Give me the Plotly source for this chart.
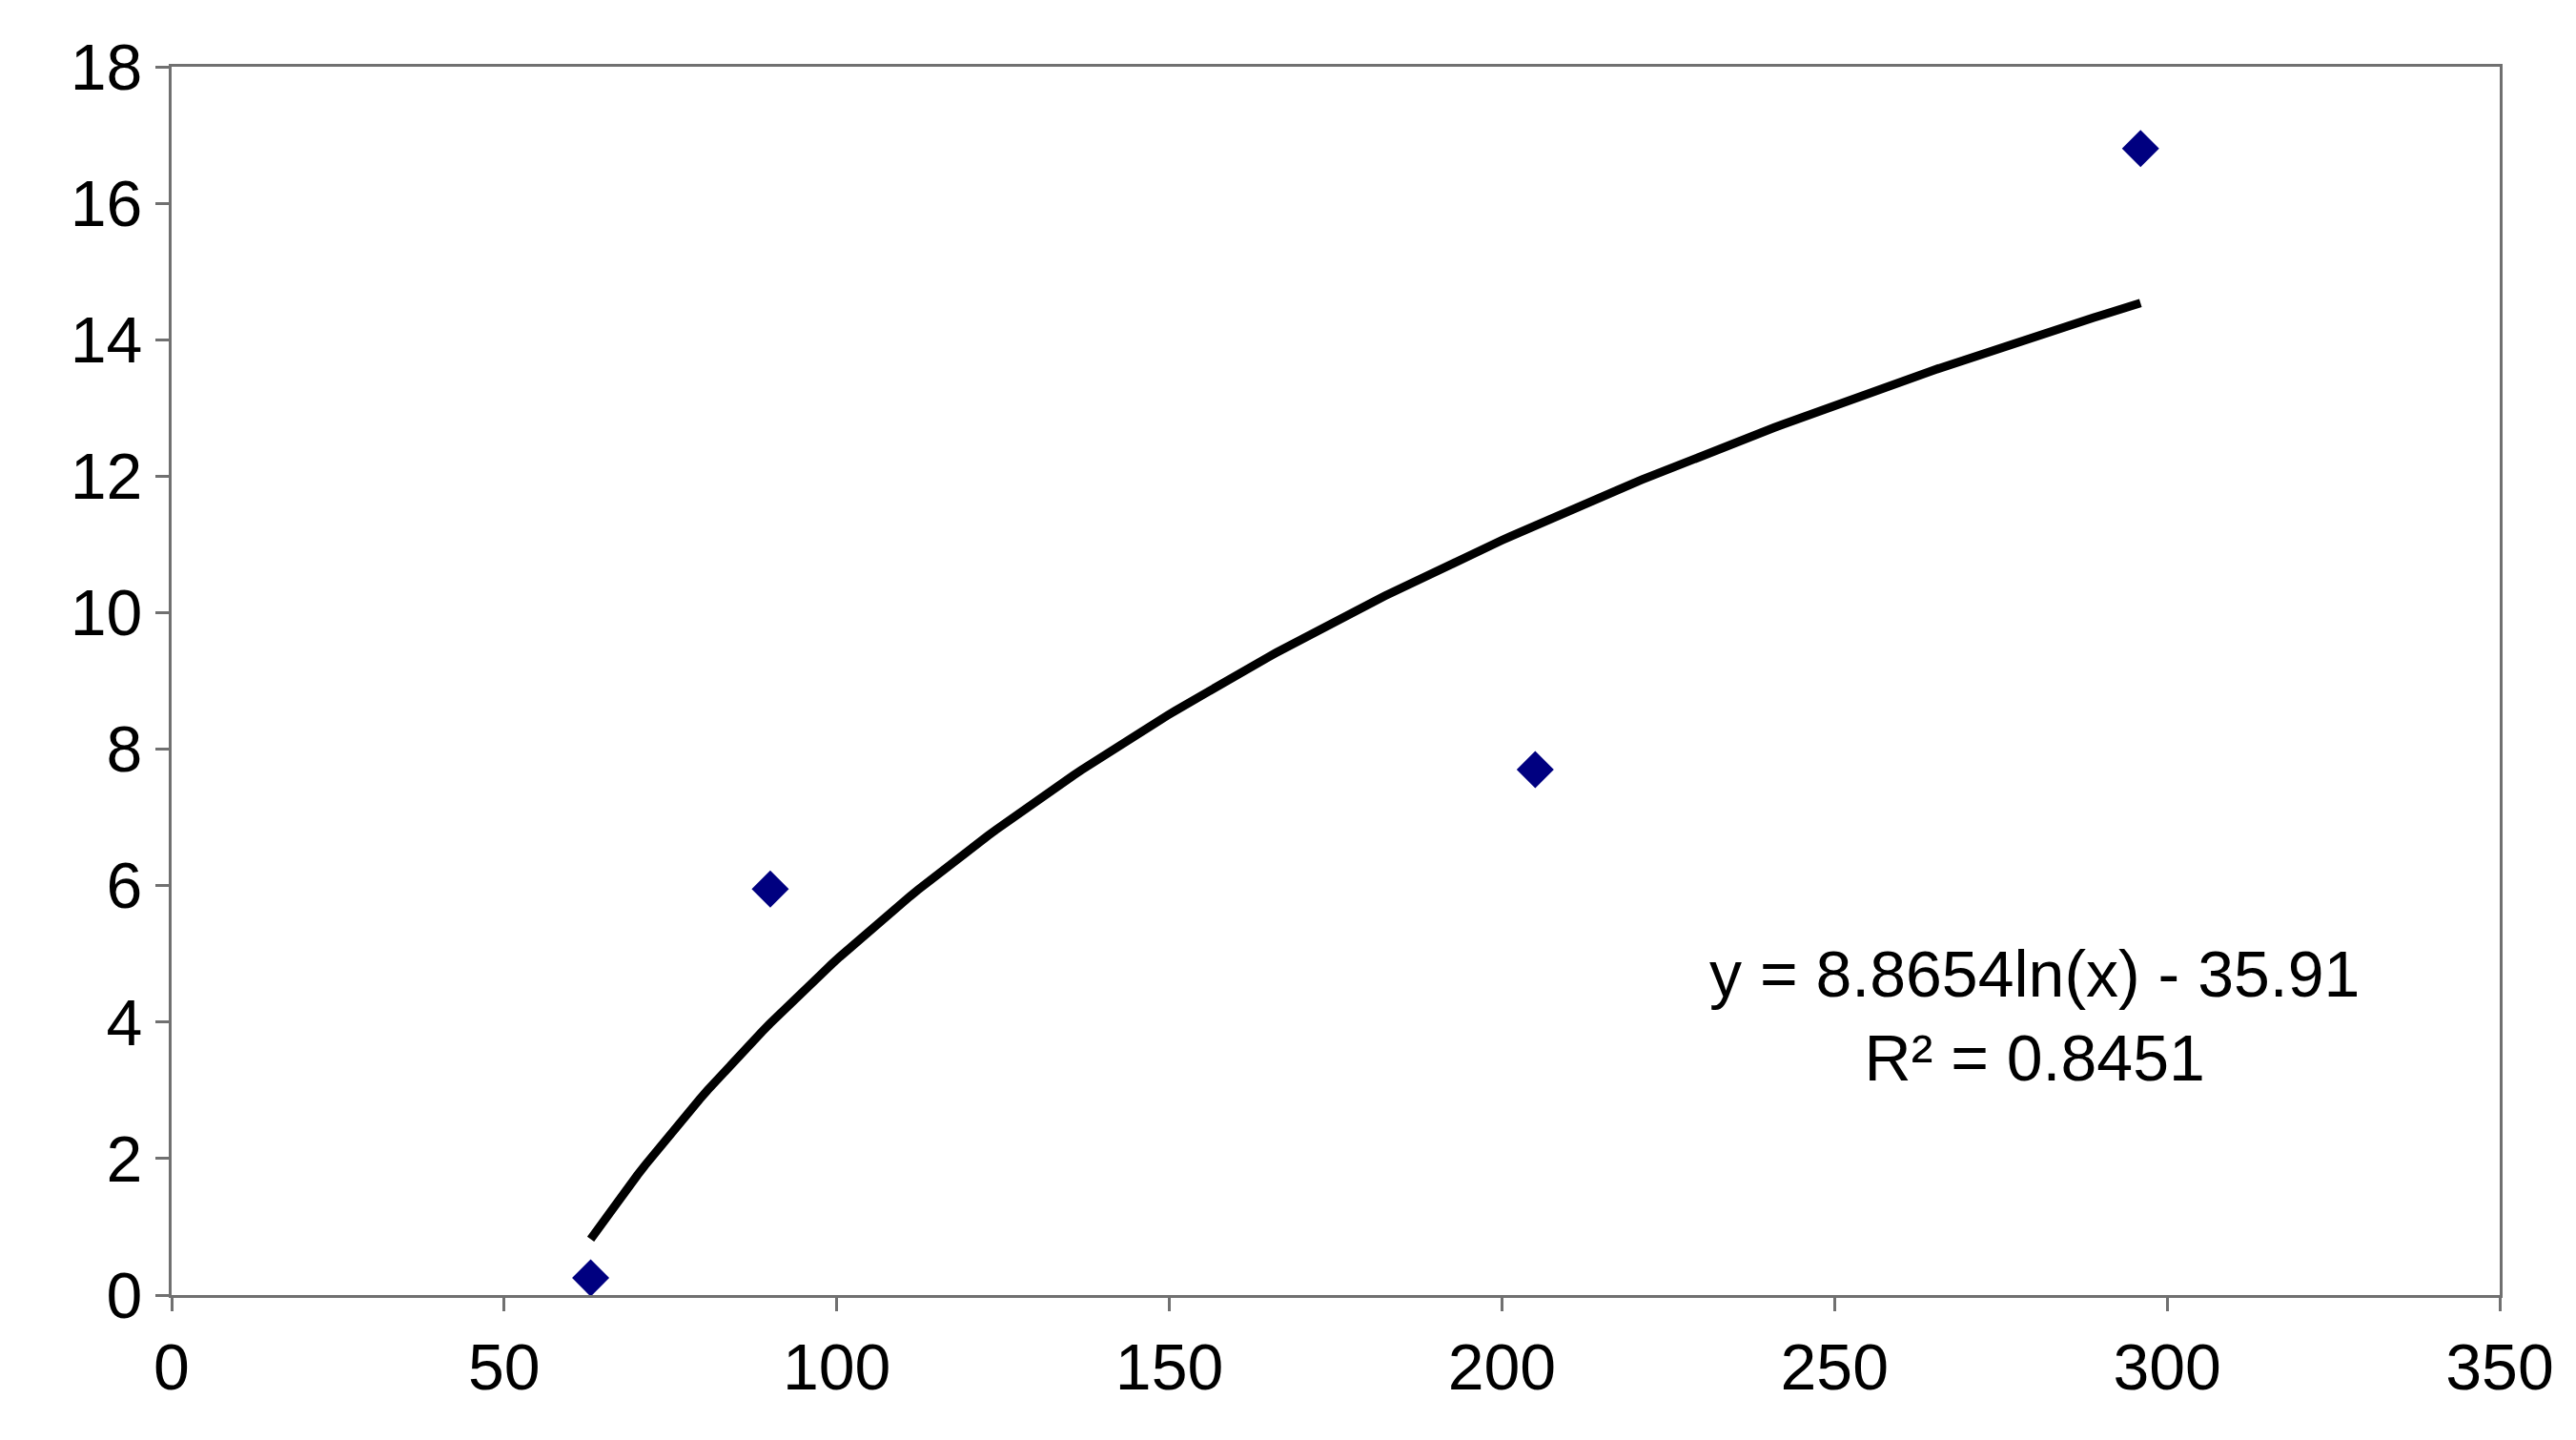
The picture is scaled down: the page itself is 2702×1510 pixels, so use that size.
import numpy as np
import plotly.graph_objects as go

x_pts = [63, 90, 205, 296]
y_pts = [0.25, 5.95, 7.7, 16.8]
coef_a = 8.8654
coef_b = -35.91
x_range_fit = [63, 296]
x_ticks = [0, 50, 100, 150, 200, 250, 300, 350]
y_ticks = [0, 2, 4, 6, 8, 10, 12, 14, 16, 18]

xf = np.linspace(x_range_fit[0], x_range_fit[1], 200)
yf = coef_a * np.log(xf) + coef_b

fig = go.Figure()
fig.add_trace(go.Scatter(x=xf, y=yf, mode="lines", line=dict(color="black", width=9), showlegend=False))
fig.add_trace(go.Scatter(x=x_pts, y=y_pts, mode="markers",
                         marker=dict(symbol="diamond", size=30, color="#000080"), showlegend=False))
fig.add_annotation(x=280, y=4.1, xref="x", yref="y", showarrow=False,
                   text="y = 8.8654ln(x) - 35.91<br>R² = 0.8451", align="center",
                   font=dict(size=68, color="black"))
axis_common = dict(showline=True, linecolor="#707070", linewidth=3, mirror=True,
                   showgrid=False, zeroline=False, ticks="outside", ticklen=14,
                   tickwidth=3, tickcolor="#707070", tickfont=dict(size=68, color="black"))
fig.update_xaxes(range=[0, 350], tickvals=x_ticks, **axis_common)
fig.update_yaxes(range=[0, 18], tickvals=y_ticks, **axis_common)
fig.update_layout(width=2702, height=1510, plot_bgcolor="white", paper_bgcolor="white",
                  font=dict(family="Liberation Sans, Arial"),
                  margin=dict(l=172, r=88, t=62, b=160))
fig.write_html("out.html")
